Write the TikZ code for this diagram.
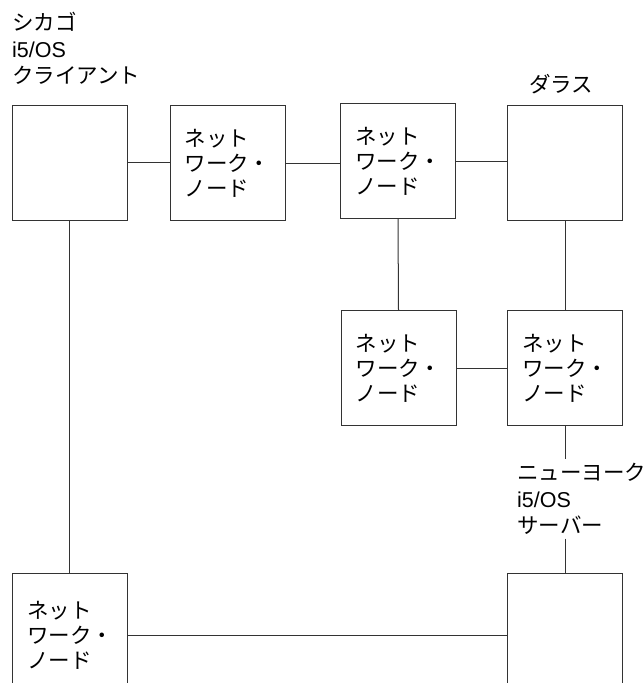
\documentclass[tikz,border=0pt]{standalone}
\usepackage{fontspec}
\setmainfont{Noto Sans CJK JP}
\newfontfamily\latfont{Liberation Sans}
\usepackage{tikz}
\definecolor{ln}{HTML}{333333}
\newcommand{\netnode}{ネット\\ワーク・\\ノード}

\begin{document}
\begin{tikzpicture}[x=1pt,y=-1pt,
  box/.style={draw=ln,line width=1pt,minimum width=115pt,minimum height=115pt,inner sep=0pt,align=left,font=\fontsize{21.5}{25}\selectfont},
  lbl/.style={anchor=north west,inner sep=0pt,align=left,font=\fontsize{21.5}{26.5}\selectfont},
  wire/.style={ln,line width=1pt}]
\useasboundingbox (0,0) rectangle (644,683);
% top row
\node[box] (chi) at (69.5,162.5) {};
\node[box] (net1) at (227.5,163) {\netnode};
\node[box] (net2) at (398,161) {\netnode};
\node[box] (dal) at (565,162.5) {};
% middle row
\node[box] (net3) at (398.5,368) {\netnode};
\node[box] (net4) at (565,368) {\netnode};
% bottom row
\node[box,minimum height=125pt] (net5) at (70,635.7) {\netnode};
\node[box,minimum height=125pt] (ny) at (565,635.7) {};
% labels
\node[lbl] (chilbl) at (12,12) {シカゴ\\{\latfont i5/OS}\\クライアント};
\node[lbl] (dallbl) at (529,74) {ダラス};
\node[lbl,inner ysep=4pt] (nylbl) at (517,459) {ニューヨーク\\{\latfont i5/OS}\\サーバー};
% links
\draw[wire] (chi.east) -- (chi.east -| net1.west);
\draw[wire] (net1.east) -- (net1.east -| net2.west);
\draw[wire] (net2.east) -- (net2.east -| dal.west);
\draw[wire] (net2.south) -- (net3.north);
\draw[wire] (dal.south) -- (net4.north);
\draw[wire] (net3.east) -- (net3.east -| net4.west);
\draw[wire] (net4.south) -- (net4.south |- nylbl.north);
\draw[wire] (nylbl.south -| ny.north) -- (ny.north);
\draw[wire] (chi.south) -- (chi.south |- net5.north);
\draw[wire] (net5.east) -- (ny.west);
\end{tikzpicture}
\end{document}
